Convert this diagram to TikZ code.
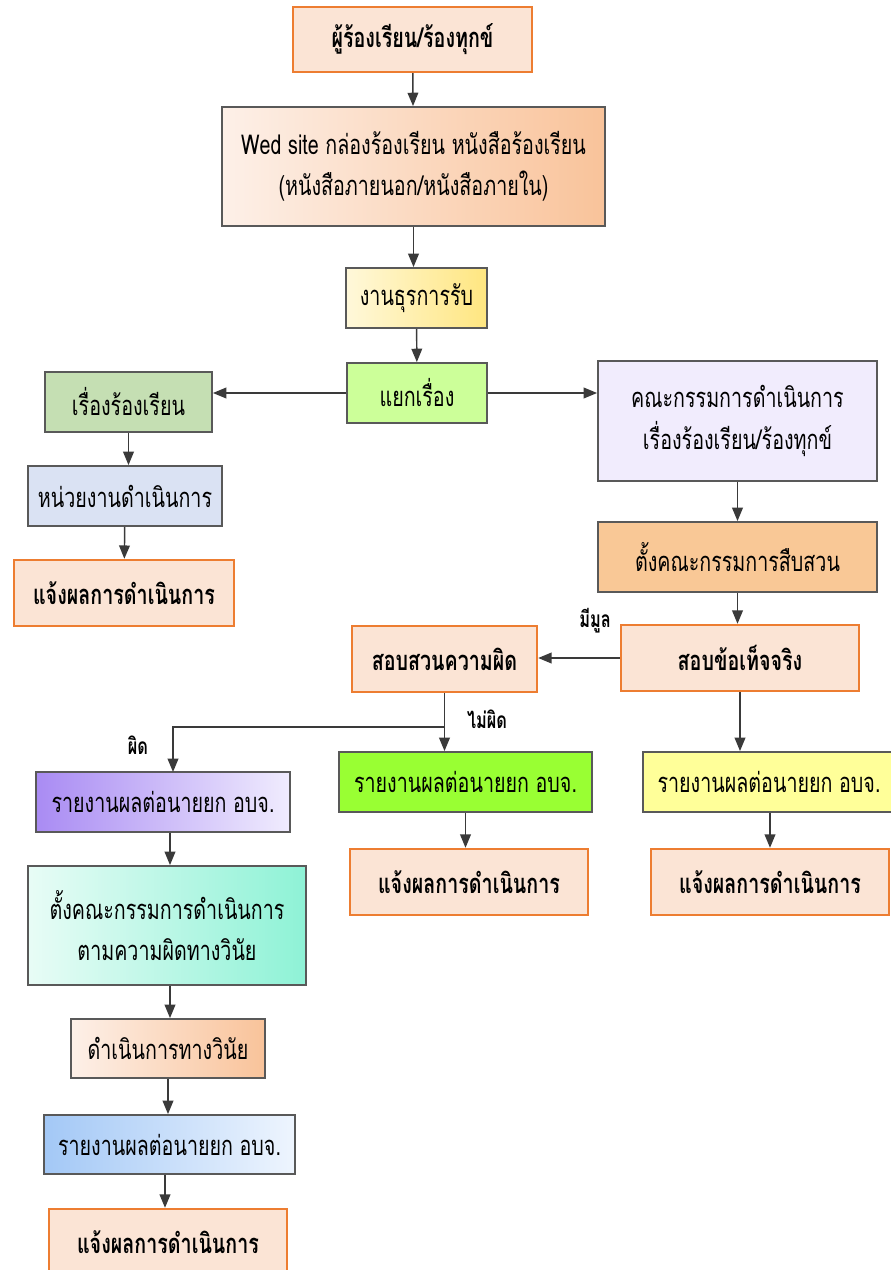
\documentclass[tikz,border=0pt]{standalone}
\usepackage{fontspec}
\setmainfont[Script=Thai, FakeStretch=0.72]{Loma}
\usetikzlibrary{arrows.meta}

\definecolor{edgegray}{HTML}{595959}
\definecolor{lineg}{HTML}{3A3A3A}
\definecolor{orng}{HTML}{ED7D31}
\definecolor{peach}{HTML}{FBE4D5}
\definecolor{peachL}{HTML}{FDF0E8}
\definecolor{peachR}{HTML}{F9C39A}
\definecolor{yelL}{HTML}{FFF8DA}
\definecolor{yelR}{HTML}{FFE680}
\definecolor{lime}{HTML}{CCFF99}
\definecolor{sage}{HTML}{C5DFB3}
\definecolor{paleblue}{HTML}{DAE2F3}
\definecolor{lavender}{HTML}{F1ECFD}
\definecolor{apricot}{HTML}{F9C896}
\definecolor{brightgreen}{HTML}{99FF33}
\definecolor{paleyellow}{HTML}{FFFF99}
\definecolor{purL}{HTML}{A98BF3}
\definecolor{purR}{HTML}{F0ECFE}
\definecolor{mintL}{HTML}{E8FCF6}
\definecolor{mintR}{HTML}{8EF2D6}
\definecolor{bluL}{HTML}{A3C8F6}
\definecolor{bluR}{HTML}{EEF5FE}

\tikzset{
  x=0.75pt, y=-0.75pt,
  base/.style={inner sep=0pt, align=center, font=\fontsize{20.5}{31}\selectfont},
  plain/.style={base, draw=edgegray, line width=1.4pt},
  result/.style={base, draw=orng, line width=1.8pt, fill=peach, font=\fontsize{20.5}{31}\selectfont\bfseries},
  arr/.style={draw=lineg, line width=1.1pt, -{Triangle[length=10pt,width=8pt]}},
  tag/.style={font=\fontsize{17}{19}\selectfont\bfseries, inner sep=0pt}
}

% \boxat{name}{x1}{y1}{x2}{y2}{style}{text}
\newcommand\boxat[7]{%
  \pgfmathsetmacro\bw{(#4-#2)*0.75}%
  \pgfmathsetmacro\bh{(#5-#3)*0.75}%
  \node[#6, minimum width=\bw pt, minimum height=\bh pt] (#1) at ({(#2+#4)/2},{(#3+#5)/2}) {#7};%
}

\begin{document}
\begin{tikzpicture}
\useasboundingbox[fill=white] (0,0) rectangle (891,1270);

% main trunk
\boxat{src}{293}{7}{532}{72}{result}{ผู้ร้องเรียน/ร้องทุกข์}
\boxat{web}{222}{107}{605}{226}{plain, left color=peachL, right color=peachR}{Wed site กล่องร้องเรียน หนังสือร้องเรียน\\(หนังสือภายนอก/หนังสือภายใน)}
\boxat{recv}{346}{268}{487}{328}{plain, left color=yelL, right color=yelR}{งานธุรการรับ}
\boxat{sort}{347}{363}{487}{423}{plain, fill=lime}{แยกเรื่อง}

% complaint branch
\boxat{cmp}{45}{372}{212}{432}{plain, fill=sage}{เรื่องร้องเรียน}
\boxat{unit}{28}{466}{222}{526}{plain, fill=paleblue}{หน่วยงานดำเนินการ}
\boxat{resA}{14}{560}{234}{626}{result}{แจ้งผลการดำเนินการ}

% committee branch
\boxat{cttee}{598}{361}{877}{481}{plain, fill=lavender}{คณะกรรมการดำเนินการ\\เรื่องร้องเรียน/ร้องทุกข์}
\boxat{probe}{598}{522}{877}{592}{plain, fill=apricot}{ตั้งคณะกรรมการสืบสวน}
\boxat{fact}{621}{625}{859}{691}{result}{สอบข้อเท็จจริง}
\boxat{inv}{352}{626}{537}{692}{result}{สอบสวนความผิด}

\boxat{repG}{339}{752}{592}{812}{plain, fill=brightgreen}{รายงานผลต่อนายยก อบจ.}
\boxat{repY}{643}{752}{895}{812}{plain, fill=paleyellow}{รายงานผลต่อนายยก อบจ.}
\boxat{resB}{350}{849}{588}{915}{result}{แจ้งผลการดำเนินการ}
\boxat{resC}{651}{849}{889}{915}{result}{แจ้งผลการดำเนินการ}

% disciplinary chain
\boxat{repP}{36}{772}{290}{832}{plain, left color=purL, right color=purR}{รายงานผลต่อนายยก อบจ.}
\boxat{disc}{28}{866}{306}{985}{plain, left color=mintL, right color=mintR}{ตั้งคณะกรรมการดำเนินการ\\ตามความผิดทางวินัย}
\boxat{act}{71}{1019}{265}{1078}{plain, left color=peachL, right color=peachR}{ดำเนินการทางวินัย}
\boxat{repB}{44}{1115}{295}{1174}{plain, left color=bluL, right color=bluR}{รายงานผลต่อนายยก อบจ.}
\boxat{resD}{49}{1209}{287}{1275}{result}{แจ้งผลการดำเนินการ}

% connectors
\draw[arr] (src) -- (web);
\draw[arr] (web.south) -- (web.south |- recv.north);
\draw[arr] (recv) -- (sort);
\draw[arr] (sort.west) -- (sort.west -| cmp.east);
\draw[arr] (sort.east) -- (sort.east -| cttee.west);
\draw[arr] (cmp.south) -- (cmp.south |- unit.north);
\draw[arr] (unit) -- (resA);
\draw[arr] (cttee) -- (probe);
\draw[arr] (probe.south) -- (probe.south |- fact.north);
\draw[arr] (fact.west) -- (fact.west -| inv.east);
\draw[arr] (fact.south) -- (fact.south |- repY.north);
\draw[arr] (inv.south) -- (inv.south |- repG.north);
\coordinate (split) at (445,727);
\coordinate (purIn) at (173,772);
\draw[arr] (split) -| (purIn);
\draw[arr] (repG.south) -- (repG.south |- resB.north);
\draw[arr] (repY.south -| resC.north) -- (resC.north);
\coordinate (colA) at (170,0);
\coordinate (colB) at (168,0);
\coordinate (colC) at (165,0);
\draw[arr] (repP.south -| colA) -- (disc.north -| colA);
\draw[arr] (disc.south -| colA) -- (act.north -| colA);
\draw[arr] (act.south -| colB) -- (repB.north -| colB);
\draw[arr] (repB.south -| colC) -- (resD.north -| colC);

% branch labels
\node[tag] (lblYes) at (595,621) {มีมูล};
\node[tag] (lblNo) at (487,719) {ไม่ผิด};
\node[tag] (lblGuilty) at (138,745) {ผิด};
\end{tikzpicture}
\end{document}
